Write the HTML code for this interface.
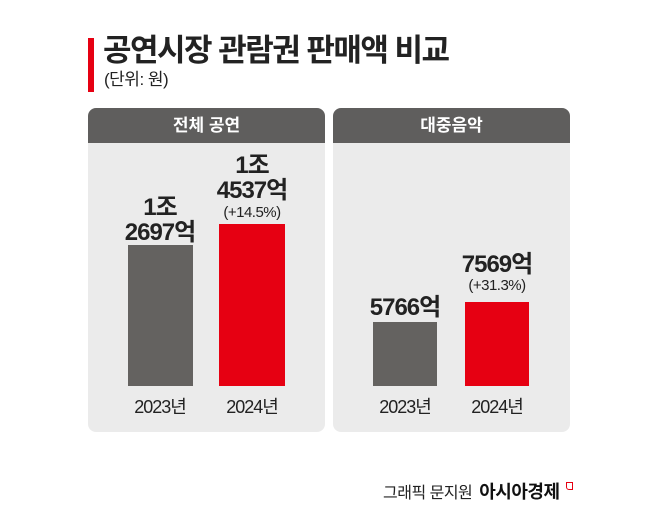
<!DOCTYPE html><html><head><meta charset="utf-8"><style>
body{margin:0;width:658px;height:525px;background:#fff;position:relative;overflow:hidden;font-family:"Liberation Sans","Noto Sans CJK KR",sans-serif;color:#222}
.a{position:absolute}
.t{position:absolute;text-align:center;white-space:nowrap;transform:translateX(-50%);line-height:1}
.v{font-size:24px;font-weight:bold;letter-spacing:-1px}
.p{font-size:15px;letter-spacing:-0.5px}
.y{font-size:18px;letter-spacing:-1px}
</style></head><body>
<div class="a" style="left:88px;top:38px;width:6px;height:54px;background:#e60012"></div>
<div class="a" style="left:103px;top:34px;font-size:31px;font-weight:bold;letter-spacing:-1.5px;line-height:34px">공연시장 관람권 판매액 비교</div>
<div class="a" style="left:104px;top:70px;font-size:17px;line-height:20px;letter-spacing:-0.5px">(단위: 원)</div>

<div class="a" style="left:88px;top:108px;width:237px;height:35px;background:#5f5e5d;border-radius:8px 8px 0 0;color:#fff;font-size:17px;font-weight:bold;text-align:center;line-height:35px">전체 공연</div>
<div class="a" style="left:88px;top:143px;width:237px;height:289px;background:#ebebeb;border-radius:0 0 8px 8px"></div>
<div class="a" style="left:333px;top:108px;width:237px;height:35px;background:#5f5e5d;border-radius:8px 8px 0 0;color:#fff;font-size:17px;font-weight:bold;text-align:center;line-height:35px">대중음악</div>
<div class="a" style="left:333px;top:143px;width:237px;height:289px;background:#ebebeb;border-radius:0 0 8px 8px"></div>

<div class="a" style="left:128px;top:245px;width:65px;height:141px;background:#646260"></div>
<div class="a" style="left:219px;top:224px;width:66px;height:162px;background:#e60012"></div>
<div class="a" style="left:373px;top:322px;width:64px;height:64px;background:#646260"></div>
<div class="a" style="left:465px;top:302px;width:64px;height:84px;background:#e60012"></div>

<div class="t v" style="left:160px;top:196px">1조</div>
<div class="t v" style="left:160px;top:221px">2697억</div>
<div class="t v" style="left:252px;top:154px">1조</div>
<div class="t v" style="left:252px;top:179px">4537억</div>
<div class="t p" style="left:252px;top:205px">(+14.5%)</div>
<div class="t v" style="left:405px;top:296px">5766억</div>
<div class="t v" style="left:497px;top:253px">7569억</div>
<div class="t p" style="left:497px;top:278px">(+31.3%)</div>

<div class="t y" style="left:160px;top:398px">2023년</div>
<div class="t y" style="left:252px;top:398px">2024년</div>
<div class="t y" style="left:405px;top:398px">2023년</div>
<div class="t y" style="left:497px;top:398px">2024년</div>

<div class="a" style="left:383px;top:482px;font-size:16px;letter-spacing:-0.5px;line-height:20px;white-space:nowrap">그래픽 문지원 <b style="font-size:18px;color:#111;margin-left:3px">아시아경제</b></div>
<div class="a" style="left:566px;top:482px;width:5px;height:6px;border:1.5px solid #e60012;border-radius:0 0 0 3px"></div>
</body></html>
